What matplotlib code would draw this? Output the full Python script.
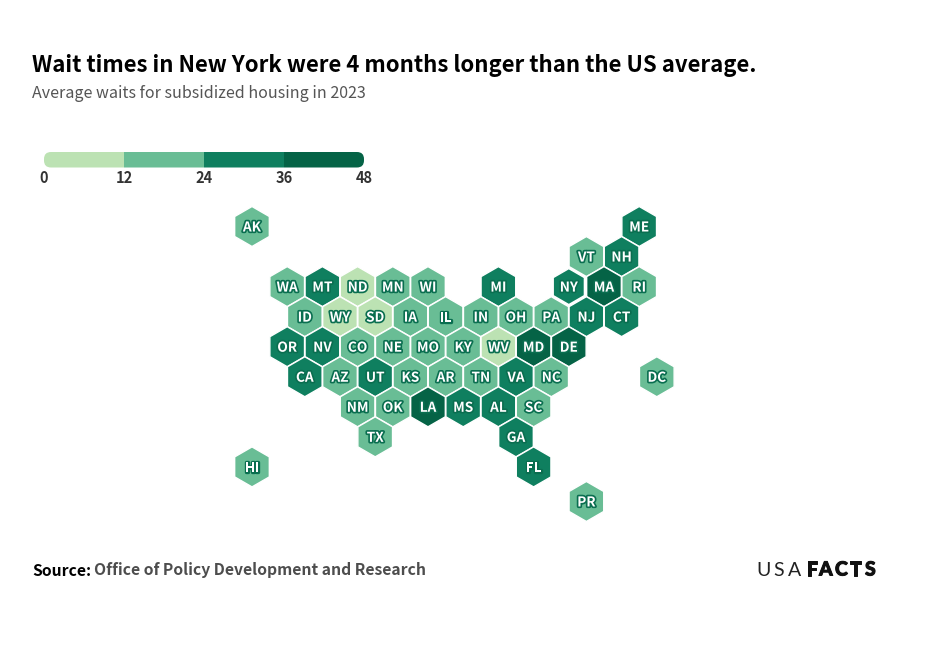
import matplotlib
matplotlib.use("Agg")
import matplotlib.pyplot as plt
import matplotlib.patheffects as pe
from matplotlib.colors import BoundaryNorm, ListedColormap
from matplotlib.patches import FancyBboxPatch, RegularPolygon
from matplotlib.transforms import ScaledTranslation

W, H = 929, 661

# wait in months
states = ["AK", "ME", "VT", "NH",
          "WA", "MT", "ND", "MN", "WI", "MI", "NY", "MA", "RI",
          "ID", "WY", "SD", "IA", "IL", "IN", "OH", "PA", "NJ", "CT",
          "OR", "NV", "CO", "NE", "MO", "KY", "WV", "MD", "DE",
          "CA", "AZ", "UT", "KS", "AR", "TN", "VA", "NC", "DC",
          "NM", "OK", "LA", "MS", "AL", "SC",
          "TX", "GA", "HI", "FL", "PR"]
months = [20, 30, 20, 28,
          20, 30, 10, 20, 20, 30, 29, 38, 20,
          20, 10, 10, 20, 20, 20, 20, 20, 28, 28,
          30, 32, 20, 20, 20, 20, 10, 37, 38,
          30, 20, 30, 20, 20, 20, 30, 20, 20,
          20, 20, 38, 30, 30, 20,
          20, 30, 20, 30, 20]
# tile grid: half-columns and rows
tile_col = [0, 22, 19, 21,
            2, 4, 6, 8, 10, 14, 18, 20, 22,
            3, 5, 7, 9, 11, 13, 15, 17, 19, 21,
            2, 4, 6, 8, 10, 12, 14, 16, 18,
            3, 5, 7, 9, 11, 13, 15, 17, 23,
            6, 8, 10, 12, 14, 16,
            7, 15, 0, 16, 19]
tile_row = [0, 0, 1, 1,
            2, 2, 2, 2, 2, 2, 2, 2, 2,
            3, 3, 3, 3, 3, 3, 3, 3, 3, 3,
            4, 4, 4, 4, 4, 4, 4, 4, 4,
            5, 5, 5, 5, 5, 5, 5, 5, 5,
            6, 6, 6, 6, 6, 6,
            7, 7, 8, 8, 9.15]

bin_edges = [0, 12, 24, 36, 48]
bin_colors = ["#BCE2B3", "#69BD95", "#0F7F5F", "#056346"]

cmap = ListedColormap(bin_colors)
norm = BoundaryNorm(bin_edges, cmap.N)

# the CJK family carries a Latin close to the original's typeface
SANS = ["Noto Sans CJK SC", "DejaVu Sans"]
plt.rcParams["font.family"] = SANS
fig = plt.figure(figsize=(W / 100, H / 100), dpi=100)
ax = fig.add_axes([0, 0, 1, 1])
ax.set_xlim(0, W)
ax.set_ylim(H, 0)
ax.axis("off")

# title block
ax.text(32, 63, "Wait times in New York were 4 months longer than the US average.",
        fontsize=15.95, fontweight="bold", color="black", va="center_baseline")
ax.text(32, 91, "Average waits for subsidized housing in 2023",
        fontsize=11.55, color="#555555", va="center_baseline")

# hex map, NY is the highlighted tile and sits a bit smaller
x0, y0, dx, dy = 252.0, 226.5, 17.6, 30.05
outline = [pe.withStroke(linewidth=2.4, foreground="#0A6E50")]
for st, m, c, r in zip(states, months, tile_col, tile_row):
    x, y = x0 + c * dx, y0 + r * dy
    ax.add_patch(RegularPolygon((x, y), 6, radius=18.0 if st == "NY" else 20.0,
                                facecolor=cmap(norm(m)), edgecolor="white", lw=1.0,
                                zorder=3 if st == "NY" else 2))
    ax.text(x, y - 0.5, st, fontsize=9.8, fontweight="bold", color="white",
            ha="center", va="center_baseline", path_effects=outline, zorder=4)

# legend bar, clipped to a pill
lax = fig.add_axes([44 / W, 1 - 167.5 / H, 320 / W, 15.5 / H])
bars = lax.barh(0, [b - a for a, b in zip(bin_edges, bin_edges[1:])], left=bin_edges[:-1],
                height=1, color=bin_colors, lw=0)
lax.set_xlim(0, 48)
lax.set_ylim(-0.5, 0.5)
lax.set_yticks([])
lax.set_xticks(bin_edges)
lax.set_xticklabels(bin_edges, fontsize=10.5, fontweight="bold", color="#333333")
lax.tick_params(axis="x", length=0, pad=2)
for s in lax.spines.values():
    s.set_visible(False)
pill = FancyBboxPatch((0, 0), 320, 15.5, boxstyle="round,pad=0,rounding_size=7",
                      transform=ScaledTranslation(44 / 100, (H - 167.5) / 100, fig.dpi_scale_trans),
                      fc="none", ec="none")
for b in bars:
    b.set_clip_path(pill)

# footer
ax.text(32, 569, "Source:", fontsize=11.3, fontweight="bold", color="black", va="center_baseline")
ax.text(94, 569, "Office of Policy Development and Research",
        fontsize=11.3, fontweight="bold", color="#4D4D4D", va="center_baseline")

# logo
for ch, x in zip("USA", [756, 773, 788]):
    ax.text(x, 570, ch, fontsize=14, fontweight="regular", color="#222222",
            va="center", family="Lato")
heavy = [pe.withStroke(linewidth=0.7, foreground="#111111")]
for ch, x in zip("FACTS", [807, 819, 835, 850, 865]):
    ax.text(x, 570, ch, fontsize=14, fontweight="black", color="#111111",
            va="center", family="Lato", path_effects=heavy)

fig.savefig("out.png", dpi=100)
